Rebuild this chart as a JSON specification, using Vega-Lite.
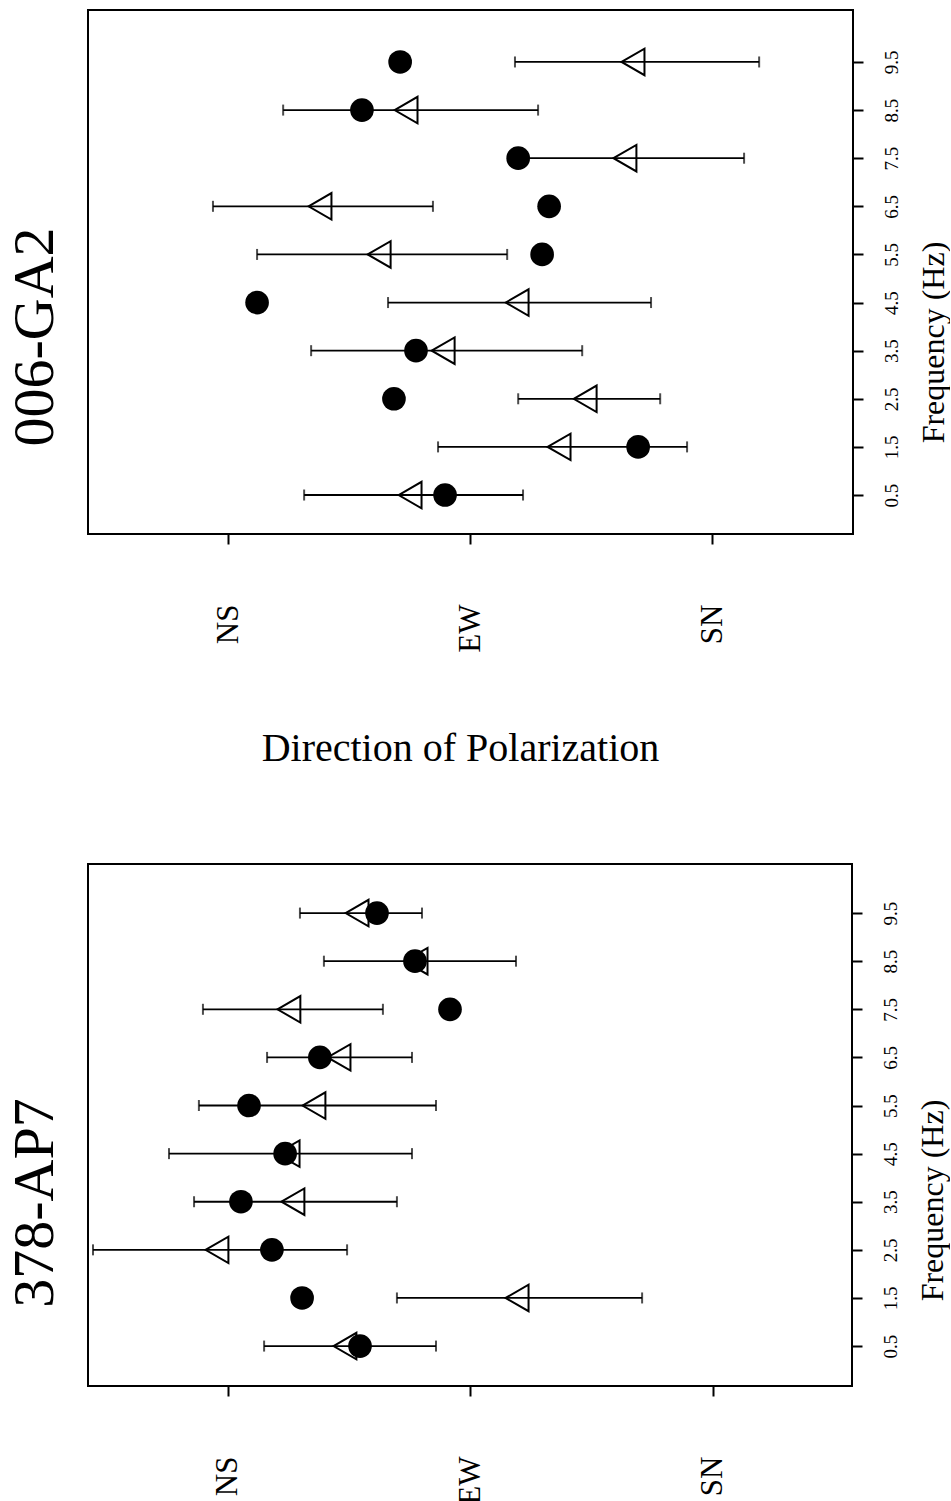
{
  "$schema": "https://vega.github.io/schema/vega-lite/v6.json",
  "background": "white",
  "padding": {"left": 5, "top": 9, "right": 0, "bottom": 0},
  "spacing": 94,
  "config": {
    "view": {"stroke": "black", "strokeWidth": 2},
    "font": "Liberation Serif",
    "axis": {"labelFont": "Liberation Serif", "titleFont": "Liberation Serif", "labelColor": "black", "titleColor": "black", "tickColor": "black", "grid": false, "domain": false, "tickSize": 10, "tickWidth": 2, "titleFontWeight": "normal"}
  },
  "datasets": {
    "ga2": [
      {"freq": 9.5, "circ": 64.0, "tri": 150.6, "lo": 106.7, "hi": 197.5},
      {"freq": 8.5, "circ": 49.8, "tri": 66.2, "lo": 20.5, "hi": 115.3},
      {"freq": 7.5, "circ": 107.9, "tri": 147.6, "lo": 106.7, "hi": 191.9},
      {"freq": 6.5, "circ": 119.4, "tri": 34.2, "lo": -5.6, "hi": 76.2},
      {"freq": 5.5, "circ": 116.8, "tri": 56.2, "lo": 10.8, "hi": 103.8},
      {"freq": 4.5, "circ": 10.8, "tri": 107.5, "lo": 59.5, "hi": 157.3},
      {"freq": 3.5, "circ": 69.9, "tri": 80.0, "lo": 30.9, "hi": 131.7},
      {"freq": 2.5, "circ": 61.7, "tri": 132.8, "lo": 107.9, "hi": 160.7},
      {"freq": 1.5, "circ": 152.5, "tri": 123.1, "lo": 78.1, "hi": 170.7},
      {"freq": 0.5, "circ": 80.7, "tri": 67.7, "lo": 28.3, "hi": 109.7}
    ],
    "ap7": [
      {"freq": 9.5, "circ": 55.3, "tri": 47.9, "lo": 26.7, "hi": 72.0},
      {"freq": 8.5, "circ": 69.4, "tri": 69.8, "lo": 35.6, "hi": 106.9},
      {"freq": 7.5, "circ": 82.4, "tri": 22.6, "lo": -9.3, "hi": 57.5},
      {"freq": 6.5, "circ": 34.1, "tri": 41.2, "lo": 14.5, "hi": 68.3},
      {"freq": 5.5, "circ": 7.8, "tri": 31.9, "lo": -10.8, "hi": 77.2},
      {"freq": 4.5, "circ": 21.2, "tri": 22.3, "lo": -21.9, "hi": 68.3},
      {"freq": 3.5, "circ": 4.8, "tri": 24.1, "lo": -12.6, "hi": 62.7},
      {"freq": 2.5, "circ": 16.3, "tri": -4.1, "lo": -50.1, "hi": 44.2},
      {"freq": 1.5, "circ": 27.5, "tri": 107.3, "lo": 62.7, "hi": 153.7},
      {"freq": 0.5, "circ": 49.0, "tri": 43.4, "lo": 13.4, "hi": 77.2}
    ]
  },
  "vconcat": [
    {
      "width": 765,
      "height": 524,
      "data": {"name": "ga2"},
      "title": {"text": "006-GA2", "orient": "left", "anchor": "middle", "fontSize": 58, "fontWeight": "normal", "font": "Liberation Serif", "baseline": "alphabetic", "offset": -23, "dx": -65, "color": "black"},
      "layer": [
        {
          "mark": {"type": "rule", "color": "black", "strokeWidth": 1.8},
          "encoding": {
            "x": {"field": "lo", "type": "quantitative", "scale": {"domain": [-52.07, 232.4], "nice": false, "zero": false},
              "axis": {"values": [0, 90, 180], "labelExpr": "datum.value == 0 ? 'NS' : datum.value == 90 ? 'EW' : 'SN'", "labelAngle": -90, "labelAlign": "right", "labelBaseline": "middle", "labelPadding": 60, "labelFontSize": 31,
                "title": "Direction of Polarization", "titleFontSize": 40, "titleX": 372, "titleY": 214, "titleBaseline": "middle", "titleAlign": "center", "titleAngle": 0}},
            "x2": {"field": "hi"},
            "y": {"field": "freq", "type": "quantitative", "scale": {"domain": [-0.31, 10.58], "nice": false, "zero": false},
              "axis": {"orient": "right", "values": [0.5, 1.5, 2.5, 3.5, 4.5, 5.5, 6.5, 7.5, 8.5, 9.5], "format": ".1f", "labelAngle": -90, "labelAlign": "center", "labelBaseline": "top", "labelPadding": 19, "labelFontSize": 19,
                "title": "Frequency (Hz)", "titleAngle": -90, "titleFontSize": 32, "titleX": 90, "titleY": 332, "titleBaseline": "alphabetic", "titleAlign": "center"}}
          }
        },
        {"mark": {"type": "tick", "orient": "vertical", "size": 11, "thickness": 2, "color": "black"},
          "encoding": {"x": {"field": "lo", "type": "quantitative"}, "y": {"field": "freq", "type": "quantitative"}}},
        {"mark": {"type": "tick", "orient": "vertical", "size": 11, "thickness": 2, "color": "black"},
          "encoding": {"x": {"field": "hi", "type": "quantitative"}, "y": {"field": "freq", "type": "quantitative"}}},
        {"mark": {"type": "point", "shape": "triangle-left", "size": 700, "filled": false, "stroke": "black", "strokeWidth": 2, "opacity": 1},
          "encoding": {"x": {"field": "tri", "type": "quantitative"}, "y": {"field": "freq", "type": "quantitative"}}},
        {"mark": {"type": "point", "shape": "circle", "size": 560, "filled": true, "color": "black", "opacity": 1},
          "encoding": {"x": {"field": "circ", "type": "quantitative"}, "y": {"field": "freq", "type": "quantitative"}}}
      ]
    },
    {
      "width": 764,
      "height": 522,
      "data": {"name": "ap7"},
      "title": {"text": "378-AP7", "orient": "left", "anchor": "middle", "fontSize": 58, "fontWeight": "normal", "font": "Liberation Serif", "baseline": "alphabetic", "offset": -23, "dx": -78, "color": "black"},
      "layer": [
        {
          "mark": {"type": "rule", "color": "black", "strokeWidth": 1.8},
          "encoding": {
            "x": {"field": "lo", "type": "quantitative", "scale": {"domain": [-51.96, 231.6], "nice": false, "zero": false},
              "axis": {"values": [0, 90, 180], "labelExpr": "datum.value == 0 ? 'NS' : datum.value == 90 ? 'EW' : 'SN'", "labelAngle": -90, "labelAlign": "right", "labelBaseline": "middle", "labelPadding": 60, "labelFontSize": 31, "title": null}},
            "x2": {"field": "hi"},
            "y": {"field": "freq", "type": "quantitative", "scale": {"domain": [-0.33, 10.52], "nice": false, "zero": false},
              "axis": {"orient": "right", "values": [0.5, 1.5, 2.5, 3.5, 4.5, 5.5, 6.5, 7.5, 8.5, 9.5], "format": ".1f", "labelAngle": -90, "labelAlign": "center", "labelBaseline": "top", "labelPadding": 19, "labelFontSize": 19,
                "title": "Frequency (Hz)", "titleAngle": -90, "titleFontSize": 32, "titleX": 90, "titleY": 336, "titleBaseline": "alphabetic", "titleAlign": "center"}}
          }
        },
        {"mark": {"type": "tick", "orient": "vertical", "size": 11, "thickness": 2, "color": "black"},
          "encoding": {"x": {"field": "lo", "type": "quantitative"}, "y": {"field": "freq", "type": "quantitative"}}},
        {"mark": {"type": "tick", "orient": "vertical", "size": 11, "thickness": 2, "color": "black"},
          "encoding": {"x": {"field": "hi", "type": "quantitative"}, "y": {"field": "freq", "type": "quantitative"}}},
        {"mark": {"type": "point", "shape": "triangle-left", "size": 700, "filled": false, "stroke": "black", "strokeWidth": 2, "opacity": 1},
          "encoding": {"x": {"field": "tri", "type": "quantitative"}, "y": {"field": "freq", "type": "quantitative"}}},
        {"mark": {"type": "point", "shape": "circle", "size": 560, "filled": true, "color": "black", "opacity": 1},
          "encoding": {"x": {"field": "circ", "type": "quantitative"}, "y": {"field": "freq", "type": "quantitative"}}}
      ]
    }
  ]
}
